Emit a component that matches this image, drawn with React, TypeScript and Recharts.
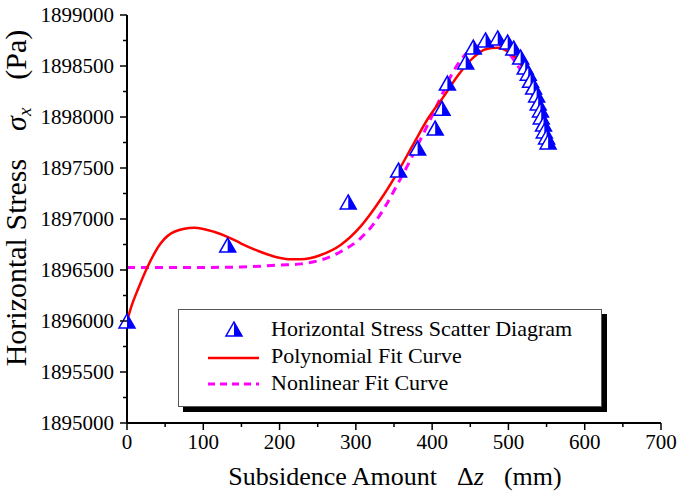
import { ComposedChart, Line, Scatter, XAxis, YAxis, Legend } from "recharts";

// measured points (Δz in mm, σx in Pa)
const scatterX = [0, 132, 290, 356, 381, 404, 413, 420, 444, 454, 470, 486, 499, 507, 516, 522, 526, 529, 533, 537, 539, 542, 543, 546, 547, 550, 552];
const scatterY = [
  1896000, 1896745, 1897167, 1897480, 1897696, 1897892, 1898085, 1898333, 1898540, 1898686, 1898755, 1898775, 1898735,
  1898676, 1898588, 1898490, 1898430, 1898360, 1898294, 1898216, 1898137, 1898069, 1898000, 1897931, 1897863, 1897804,
  1897755,
];

// polynomial fit
const polyX = [0, 7, 14, 27, 44, 62, 88, 114, 136, 149, 171, 195, 215, 228, 254, 280, 306, 332, 354, 376, 395, 415, 435, 455, 470, 485, 500, 515, 525, 535, 545, 552];
const polyY = [
  1896000, 1896170, 1896304, 1896532, 1896760, 1896875, 1896915, 1896875, 1896811, 1896762, 1896690, 1896628, 1896605,
  1896605, 1896647, 1896745, 1896925, 1897186, 1897448, 1897742, 1897990, 1898200, 1898420, 1898590, 1898665, 1898680,
  1898640, 1898530, 1898400, 1898200, 1897950, 1897775,
];

// nonlinear fit
const nonlinX = [0, 100, 150, 200, 228, 254, 280, 306, 324, 341, 354, 367, 380, 394, 411, 428, 450, 470, 480, 495, 507, 525, 540, 552];
const nonlinY = [
  1896525, 1896525, 1896530, 1896548, 1896560, 1896598, 1896679, 1896811, 1896958, 1897154, 1897333, 1897513, 1897709,
  1897920, 1898190, 1898450, 1898657, 1898715, 1898725, 1898670, 1898560, 1898333, 1898050, 1897760,
];

const xTicks = [0, 50, 100, 150, 200, 250, 300, 350, 400, 450, 500, 550, 600, 650, 700];
const yTicks = [
  1895000, 1895250, 1895500, 1895750, 1896000, 1896250, 1896500, 1896750, 1897000, 1897250, 1897500, 1897750, 1898000,
  1898250, 1898500, 1898750, 1899000,
];

const scatterData = scatterX.map((x, i) => ({ x, y: scatterY[i] }));
const polyData = polyX.map((x, i) => ({ x, y: polyY[i] }));
const nonlinData = nonlinX.map((x, i) => ({ x, y: nonlinY[i] }));

const FONT = "'Liberation Serif', 'Times New Roman', serif";
const BLUE = "#0000ff";

const HalfTriangle = (props: any) => {
  const { cx, cy } = props;
  if (cx == null || cy == null) return null;
  const w = 16;
  const h = 14;
  const top = cy - h / 2;
  const bot = cy + h / 2;
  return (
    <g>
      <polygon points={`${cx},${top} ${cx + w / 2},${bot} ${cx - w / 2},${bot}`} fill="#fff" stroke={BLUE} strokeWidth={1.5} />
      <polygon points={`${cx},${top} ${cx + w / 2},${bot} ${cx},${bot}`} fill={BLUE} />
    </g>
  );
};

const XTick = (props: any) => {
  const { x, y, payload } = props;
  const major = payload.value % 100 === 0;
  const axisY = y - 9;
  return (
    <g>
      <line x1={x} x2={x} y1={axisY} y2={axisY + (major ? 7 : 4)} stroke="#000" strokeWidth={1.5} />
      {major && (
        <text x={x} y={y} dy="0.8em" textAnchor="middle" fontSize={21} fontFamily={FONT} fill="#000">
          {payload.value}
        </text>
      )}
    </g>
  );
};

const YTick = (props: any) => {
  const { x, y, payload } = props;
  const major = payload.value % 500 === 0;
  const axisX = x + 13;
  return (
    <g>
      <line x1={axisX} x2={axisX - (major ? 7 : 4)} y1={y} y2={y} stroke="#000" strokeWidth={1.5} />
      {major && (
        <text x={x} y={y} dy="0.35em" textAnchor="end" fontSize={21} fontFamily={FONT} fill="#000">
          {payload.value}
        </text>
      )}
    </g>
  );
};

const XLabel = () => (
  <text x={395} y={485} textAnchor="middle" fontSize={26} fontFamily={FONT} fill="#000">
    Subsidence Amount
    <tspan dx={20}>Δ</tspan>
    <tspan fontStyle="italic">z</tspan>
    <tspan dx={20}>(mm)</tspan>
  </text>
);

const YLabel = () => (
  <text transform="translate(26, 198) rotate(-90)" textAnchor="middle" fontSize={30} fontFamily={FONT} fill="#000">
    Horizontal Stress
    <tspan dx={28} fontStyle="italic">σ</tspan>
    <tspan dy={5} fontStyle="italic" fontSize={19}>
      x
    </tspan>
    <tspan dx={28} dy={-5}>(Pa)</tspan>
  </text>
);

const LegendBox = () => (
  <div
    style={{
      width: 422,
      height: 96,
      border: "1px solid #555",
      boxShadow: "5px 5px 0 #000",
      background: "#fff",
      fontFamily: FONT,
      fontSize: 22,
      color: "#000",
      position: "relative",
    }}
  >
    <svg width={90} height={96} style={{ position: "absolute", left: 0, top: 0 }}>
      <HalfTriangle cx={55} cy={19} />
      <line x1={29} x2={80} y1={48} y2={48} stroke="#ff0000" strokeWidth={2.5} />
      <line x1={29} x2={80} y1={74} y2={74} stroke="#ff00ff" strokeWidth={3} strokeDasharray="7 5" />
    </svg>
    <div style={{ position: "absolute", left: 92, top: 5, lineHeight: "27px", whiteSpace: "nowrap" }}>
      <div>Horizontal Stress Scatter Diagram</div>
      <div>Polynomial Fit Curve</div>
      <div>Nonlinear Fit Curve</div>
    </div>
  </div>
);

export default function App() {
  return (
    <div style={{ position: "absolute", left: 0, top: 0, background: "#fff" }}>
      <ComposedChart width={685} height={494} margin={{ top: 15, right: 24, bottom: 0, left: 0 }}>
        <XAxis
          dataKey="x"
          type="number"
          domain={[0, 700]}
          ticks={xTicks}
          interval={0}
          tickSize={6}
          tickMargin={3}
          tickLine={false}
          tick={<XTick />}
          axisLine={{ stroke: "#000", strokeWidth: 2 }}
          height={71}
          label={<XLabel />}
        />
        <YAxis
          dataKey="y"
          type="number"
          domain={[1895000, 1899000]}
          ticks={yTicks}
          interval={0}
          tickSize={7}
          tickMargin={6}
          tickLine={false}
          tick={<YTick />}
          axisLine={{ stroke: "#000", strokeWidth: 2 }}
          width={127}
          allowDataOverflow
          label={<YLabel />}
        />
        <Legend
          layout="vertical"
          align="center"
          verticalAlign="middle"
          content={<LegendBox />}
          wrapperStyle={{ position: "absolute", left: 178, top: 309, width: "auto" }}
        />
        <Scatter
          name="Horizontal Stress Scatter Diagram"
          data={scatterData}
          fill={BLUE}
          shape={<HalfTriangle />}
          isAnimationActive={false}
        />
        <Line
          name="Nonlinear Fit Curve"
          data={nonlinData}
          dataKey="y"
          type="monotone"
          stroke="#ff00ff"
          strokeWidth={3}
          strokeDasharray="8 6"
          dot={false}
          activeDot={false}
          isAnimationActive={false}
        />
        <Line
          name="Polynomial Fit Curve"
          data={polyData}
          dataKey="y"
          type="monotone"
          stroke="#ff0000"
          strokeWidth={2.5}
          dot={false}
          activeDot={false}
          isAnimationActive={false}
        />
      </ComposedChart>
    </div>
  );
}
